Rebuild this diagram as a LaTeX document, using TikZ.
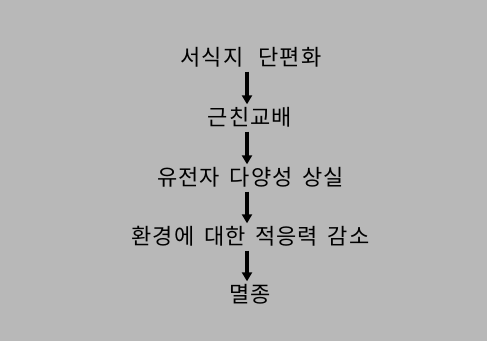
\documentclass[tikz,border=0pt]{standalone}
\usepackage{fontspec}
\newfontfamily\kr[WordSpace=1.6,LetterSpace=5]{Noto Sans CJK KR}
\usetikzlibrary{arrows.meta}
\definecolor{bg}{HTML}{B8B8B8}
\tikzset{
  lbl/.style={font=\kr\fontsize{22pt}{22pt}\selectfont, inner sep=0pt, text height=17pt, text depth=2pt, anchor=center},
  flow/.style={line width=3.6pt, -{Triangle[width=10pt,length=9pt]}, shorten <=4pt, shorten >=4pt}
}
\begin{document}
\begin{tikzpicture}[x=1pt,y=-1pt]
\useasboundingbox (0,0) rectangle (490,346);
\fill[bg] (0,0) rectangle (487,341);
\node[lbl] (a) at (251,58) {서식지\hspace{15pt}단편화};
\node[lbl] (b) at (250,118) {근친교배};
\node[lbl] (c) at (250.5,178) {유전자 다양성 상실};
\node[lbl] (d) at (250.5,237) {환경에 대한 적응력 감소};
\node[lbl] (e) at (250,295) {멸종};
\draw[flow] ([xshift=-4pt]a.south) -- ([xshift=-3pt]b.north);
\draw[flow] ([xshift=-3pt]b.south) -- ([xshift=-3.5pt]c.north);
\draw[flow] ([xshift=-3.5pt]c.south) -- ([xshift=-3.5pt]d.north);
\draw[flow] ([xshift=-3.5pt]d.south) -- ([xshift=-3pt]e.north);
\end{tikzpicture}
\end{document}
